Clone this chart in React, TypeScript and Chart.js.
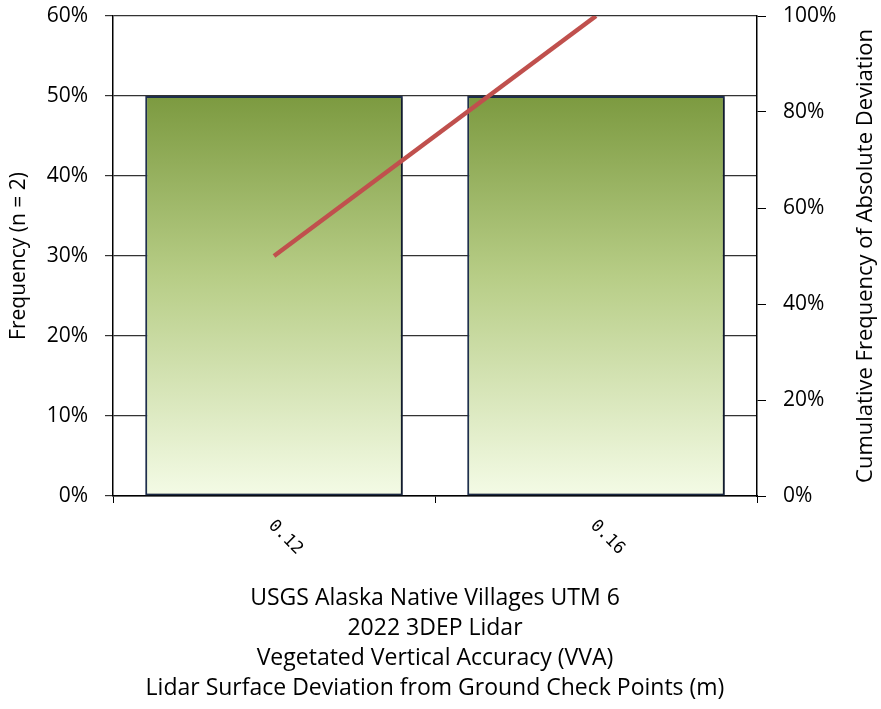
import React, { useEffect, useRef } from "react";
import { Chart, registerables } from "chart.js";

Chart.register(...registerables);

const categories = ["0.12", "0.16"];
const frequencyValues = [50, 50];
const cumulativeValues = [50, 100];
const titleLines = [
  "USGS Alaska Native Villages UTM 6",
  "2022 3DEP Lidar",
  "Vegetated Vertical Accuracy (VVA)",
  "Lidar Surface Deviation from Ground Check Points (m)",
];
const leftTitle = "Frequency (n = 2)";
const rightTitle = "Cumulative Frequency of Absolute Deviation";

const FONT = "Open Sans";

const customText = {
  id: "customText",
  afterDraw(chart: any) {
    const ctx = chart.ctx;
    const x = chart.scales.x;
    const area = chart.chartArea;
    ctx.save();
    ctx.fillStyle = "#000";
    ctx.font = `17px "DejaVu Sans Mono"`;
    ctx.textAlign = "left";
    ctx.textBaseline = "middle";
    categories.forEach((c, i) => {
      const px = x.getPixelForValue(i);
      ctx.save();
      ctx.translate(px - 3, area.bottom + 27);
      ctx.rotate(Math.PI / 4);
      ctx.fillText(c, 0, 0);
      ctx.restore();
    });
    ctx.font = `22px "${FONT}"`;
    ctx.textAlign = "center";
    ctx.save();
    ctx.translate(866, (area.top + area.bottom) / 2);
    ctx.rotate(-Math.PI / 2);
    ctx.fillText(rightTitle, 0, 0);
    ctx.restore();
    ctx.restore();
  },
};

const barShadow = {
  id: "barShadow",
  beforeDatasetDraw(chart: any, args: any) {
    if (args.meta.type === "bar") {
      const ctx = chart.ctx;
      ctx.save();
      ctx.shadowColor = "rgba(0,0,0,0.45)";
      ctx.shadowOffsetX = 2;
      ctx.shadowOffsetY = 1;
      ctx.shadowBlur = 2;
    }
  },
  afterDatasetDraw(chart: any, args: any) {
    if (args.meta.type === "bar") {
      chart.ctx.restore();
    }
  },
};

export default function App() {
  const ref = useRef<HTMLCanvasElement | null>(null);
  useEffect(() => {
    if (!ref.current) return;
    const chart = new Chart(ref.current, {
      type: "bar",
      data: {
        labels: categories,
        datasets: [
          {
            type: "line",
            label: "Cumulative",
            data: cumulativeValues,
            yAxisID: "y1",
            borderColor: "#c0504d",
            borderWidth: 4.5,
            pointRadius: 0,
            fill: false,
            order: 0,
          } as any,
          {
            type: "bar",
            label: "Frequency",
            data: frequencyValues,
            yAxisID: "y",
            borderColor: "#1f2f4d",
            borderWidth: 2,
            borderSkipped: false,
            barPercentage: 0.8,
            categoryPercentage: 1,
            order: 1,
            backgroundColor: (c: any) => {
              const chart = c.chart;
              const ys = chart.scales && chart.scales.y;
              if (!ys || !chart.chartArea) return "#a8c072";
              const y0 = ys.getPixelForValue(50);
              const y1 = ys.getPixelForValue(0);
              if (!isFinite(y0) || !isFinite(y1) || y0 === y1) return "#a8c072";
              const g = chart.ctx.createLinearGradient(0, y0, 0, y1);
              g.addColorStop(0, "#7c9a40");
              g.addColorStop(0.45, "#b7cd86");
              g.addColorStop(1, "#f4fbe6");
              return g;
            },
          } as any,
        ],
      },
      options: {
        animation: false,
        responsive: false,
        maintainAspectRatio: false,
        layout: { padding: { top: 16, left: 0, right: 0, bottom: 0 } },
        plugins: { legend: { display: false }, tooltip: { enabled: false } },
        scales: {
          x: {
            offset: true,
            grid: {
              offset: true,
              drawOnChartArea: false,
              drawTicks: true,
              tickLength: 7,
              color: "#000",
            },
            border: { display: true, color: "#000", width: 1.5 },
            ticks: { display: false },
            title: {
              display: true,
              text: titleLines,
              color: "#000",
              font: { family: FONT, size: 23, lineHeight: 30 / 23 },
              padding: { top: 0, bottom: 6 },
            },
            afterFit: (s: any) => {
              s.height = 213;
              s.paddingLeft = 0;
              s.paddingRight = 0;
            },
          },
          y: {
            position: "left",
            min: 0,
            max: 60,
            ticks: {
              stepSize: 10,
              callback: (v: any) => v + "%",
              color: "#000",
              font: { family: FONT, size: 21 },
              padding: 17,
            },
            grid: { color: "#333", tickLength: 8, lineWidth: 1.2 },
            border: { display: true, color: "#000", width: 1.5 },
            title: {
              display: true,
              text: leftTitle,
              color: "#000",
              font: { family: FONT, size: 21 },
              padding: { top: 6, bottom: 0 },
            },
            afterFit: (s: any) => {
              s.width = 113;
              s.paddingTop = 0;
              s.paddingBottom = 0;
            },
          },
          y1: {
            position: "right",
            min: 0,
            max: 100,
            ticks: {
              stepSize: 20,
              callback: (v: any) => v + "%",
              color: "#000",
              font: { family: FONT, size: 21 },
              padding: 17,
            },
            grid: { drawOnChartArea: false, tickLength: 9, color: "#000" },
            border: { display: true, color: "#000", width: 1.5 },
            afterFit: (s: any) => {
              s.width = 124;
              s.paddingTop = 0;
              s.paddingBottom = 0;
            },
          },
        },
      },
      plugins: [barShadow, customText],
    });
    return () => chart.destroy();
  }, []);
  return (
    <div style={{ position: "fixed", left: 0, top: 0, width: 881, height: 709, background: "#fff" }}>
      <canvas ref={ref} width={881} height={709} style={{ width: 881, height: 709, display: "block" }} />
    </div>
  );
}
